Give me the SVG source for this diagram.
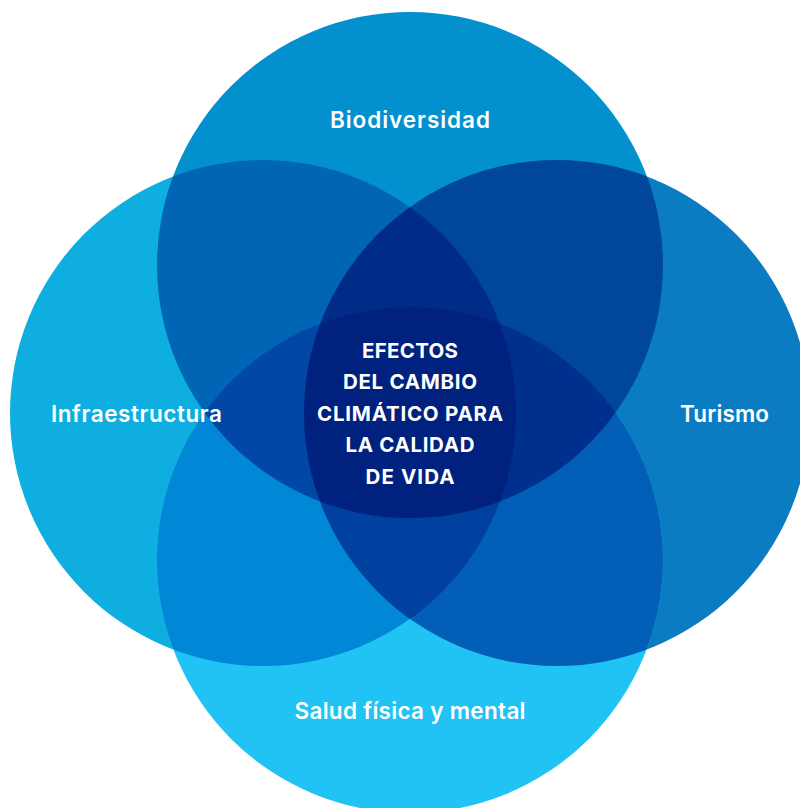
<svg xmlns="http://www.w3.org/2000/svg" width="800" height="808" viewBox="0 0 800 808">
<style>
.lbl{font-family:Inter,"Open Sans","Liberation Sans",sans-serif;font-weight:600;font-size:22.5px;fill:#fff;text-anchor:middle}
.ctr{font-family:Inter,"Open Sans","Liberation Sans",sans-serif;font-weight:700;font-size:20.5px;fill:#fff;text-anchor:middle}
</style>
<defs>
<clipPath id="cT"><circle cx="410" cy="265" r="253"/></clipPath>
<clipPath id="cL"><circle cx="263" cy="413" r="253"/></clipPath>
<clipPath id="cR"><circle cx="557" cy="413" r="253"/></clipPath>
<clipPath id="cB"><circle cx="410" cy="560" r="253"/></clipPath>
</defs>
<rect width="800" height="808" fill="#fff"/>
<g id="node-biodiversidad"><circle cx="410" cy="265" r="253" fill="#0290cf"/></g>
<g id="node-infraestructura"><circle cx="263" cy="413" r="253" fill="#0eafe0"/></g>
<g id="node-turismo"><circle cx="557" cy="413" r="253" fill="#0b7cc2"/></g>
<g id="node-salud"><circle cx="410" cy="560" r="253" fill="#21c3f4"/></g>
<g id="overlaps">
<circle cx="263" cy="413" r="253" fill="#0065b4" clip-path="url(#cT)"/>
<circle cx="557" cy="413" r="253" fill="#004699" clip-path="url(#cT)"/>
<circle cx="263" cy="413" r="253" fill="#0087d5" clip-path="url(#cB)"/>
<circle cx="557" cy="413" r="253" fill="#025eb7" clip-path="url(#cB)"/>
<g clip-path="url(#cT)"><circle cx="410" cy="560" r="253" fill="#0047a6" clip-path="url(#cL)"/></g>
<g clip-path="url(#cT)"><circle cx="410" cy="560" r="253" fill="#00308e" clip-path="url(#cR)"/></g>
<g clip-path="url(#cT)"><circle cx="557" cy="413" r="253" fill="#002b86" clip-path="url(#cL)"/></g>
<g clip-path="url(#cB)"><circle cx="557" cy="413" r="253" fill="#00409e" clip-path="url(#cL)"/></g>
</g>
<g id="node-center">
<g clip-path="url(#cT)"><g clip-path="url(#cB)"><g clip-path="url(#cL)"><circle cx="557" cy="413" r="253" fill="#00217d" clip-path="url(#cR)"/></g></g></g>
<text class="ctr" x="410" y="357.5" textLength="96" lengthAdjust="spacing">EFECTOS</text>
<text class="ctr" x="410" y="389" textLength="134" lengthAdjust="spacing">DEL CAMBIO</text>
<text class="ctr" x="410" y="420.5" textLength="186" lengthAdjust="spacing">CLIMÁTICO PARA</text>
<text class="ctr" x="410" y="452" textLength="129" lengthAdjust="spacing">LA CALIDAD</text>
<text class="ctr" x="410" y="483.5" textLength="89" lengthAdjust="spacing">DE VIDA</text>
</g>
<g id="labels">
<text class="lbl" x="410" y="127.5" textLength="160" lengthAdjust="spacing">Biodiversidad</text>
<text class="lbl" x="136.5" y="421.5" textLength="171" lengthAdjust="spacing">Infraestructura</text>
<text class="lbl" x="724.5" y="421.5" textLength="89" lengthAdjust="spacing">Turismo</text>
<text class="lbl" x="410" y="718.5" textLength="231" lengthAdjust="spacing">Salud física y mental</text>
</g>
</svg>
